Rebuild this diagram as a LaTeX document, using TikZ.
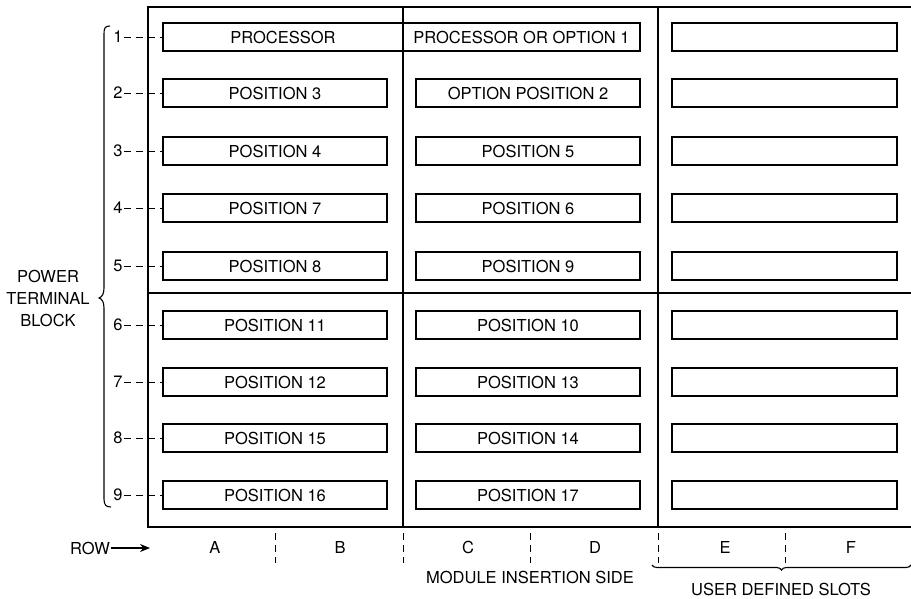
\documentclass[tikz,border=0pt]{standalone}
\usepackage{fontspec}
\setmainfont{TeX Gyre Heros}
\usetikzlibrary{decorations.pathreplacing,arrows.meta}

\tikzset{
  slotbox/.style={draw, line width=1.1pt, minimum height=28pt, inner sep=0pt},
  lbl/.style={font=\fontsize{16.5}{22}\selectfont, inner sep=1pt},
  frameline/.style={line width=1.6pt},
  tickline/.style={line width=1pt, dash pattern=on 7pt off 5pt}
}

\begin{document}
\begin{tikzpicture}[x=1pt,y=-1pt]
                \useasboundingbox (0,0) rectangle (911,598);

                % the card cage
                \coordinate (TL) at (148,7);
                \coordinate (BL) at (148,527);
                \draw [frameline] (911,7) -- (TL) -- (BL) -- (911,527)
                                  (148,293) -- (911,293)
                                  (403,7)   -- (403,527)
                                  (658,7)   -- (658,527);

                % the slots
                \node[slotbox, lbl, minimum width=240pt] (p1a) at (283,37) {PROCESSOR};
                \node[slotbox, lbl, minimum width=237pt] (p1b) at (521.5,37) {PROCESSOR OR OPTION 1};
                \node[slotbox, minimum width=225pt] (u1) at (784.5,37) {};
                \foreach \r/\y/\pl/\pr in {2/93/3/OPTION POSITION 2, 3/151/4/POSITION 5,
                                           4/208/7/POSITION 6, 5/266/8/POSITION 9,
                                           6/325/11/POSITION 10, 7/382/12/POSITION 13,
                                           8/438/15/POSITION 14, 9/495/16/POSITION 17}{
                  \node[slotbox, lbl, minimum width=224pt] (p\r a) at (275,\y) {POSITION \pl};
                  \node[slotbox, lbl, minimum width=224pt] (p\r b) at (528,\y) {\pr};
                  \node[slotbox, minimum width=225pt] (u\r) at (784.5,\y) {};
                }

                % terminal block rows
                \foreach \r/\y in {1/37,2/93,3/151,4/208,5/266,6/325,7/382,8/438,9/495}{
                  \node[lbl] (t\r) at (118,\y) {\r};
                  \draw [tickline] (t\r.east) -- (p\r a.west);
                }
                \draw [line width=1.1pt] (110,26) .. controls (105,26) and (104,28) .. (104,34)
                      -- (104,288) .. controls (104,294) and (102,297) .. (99,298)
                      .. controls (102,299) and (104,302) .. (104,308)
                      -- (104,499) .. controls (104,505) and (106,507) .. (111,507);
                \node[lbl, align=center] (ptb) at (48,298) {POWER\\TERMINAL\\BLOCK};

                % row letters
                \node[lbl] (row) at (90,548) {ROW};
                \coordinate (rowend) at (150,548);
                \draw [line width=1.1pt, -{Stealth[length=10pt,width=8pt]}] (row.east) -- (rowend);
                \foreach \c/\x in {A/215,B/340,C/468,D/595,E/725,F/851}
                  \node[lbl] (c\c) at (\x,547) {\c};
                \foreach \x in {275,403,530,658,785}
                  \draw [tickline] (\x,533) -- (\x,563);

                \node[lbl] (mis) at (530,577) {MODULE INSERTION SIDE};
                \draw [line width=1.1pt, decoration={brace, amplitude=5pt}, decorate]
                      (911,565) -- (652,565);
                \node[lbl] (uds) at (781,589) {USER DEFINED SLOTS};
              \end{tikzpicture}
\end{document}
